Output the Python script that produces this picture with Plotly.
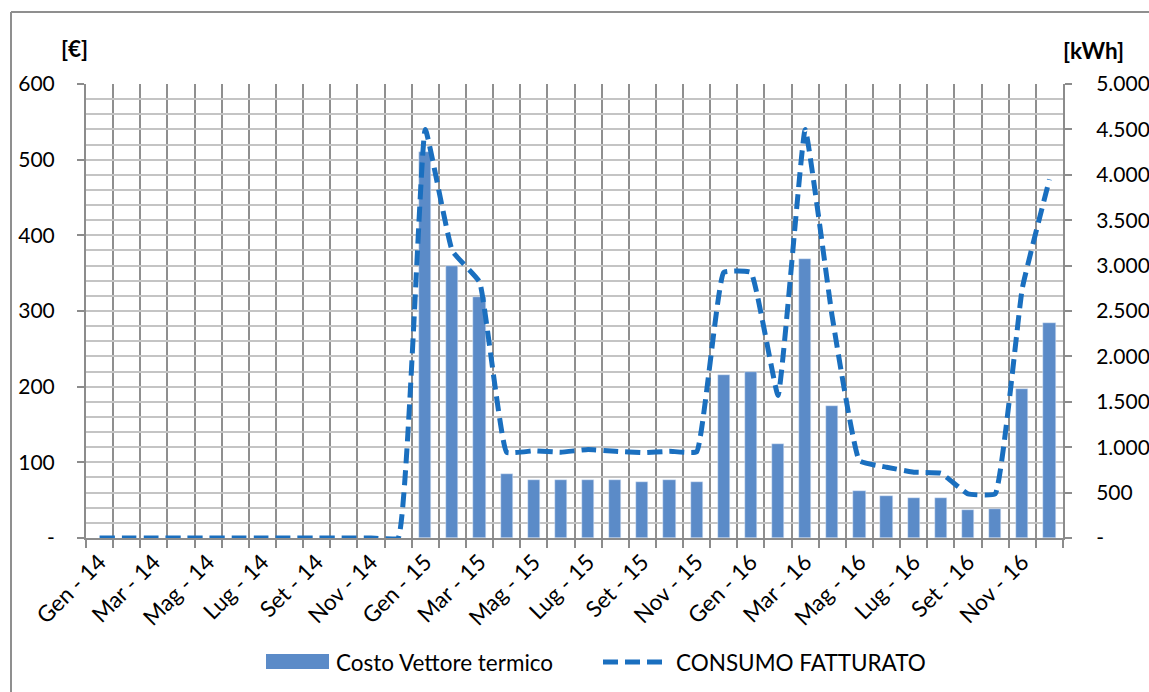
import plotly.graph_objects as go

# Months Jan 2014 - Dec 2016
months = [f"{m} - {y}" for y in ("14", "15", "16")
          for m in ("Gen", "Feb", "Mar", "Apr", "Mag", "Giu",
                    "Lug", "Ago", "Set", "Ott", "Nov", "Dic")]

# Cost of the thermal carrier [€] (no bills during 2014)
costo = [None] * 12 + [
    510, 360, 319, 85, 77, 76, 77, 76, 74, 76, 74, 216,
    219, 124, 369, 174, 62, 56, 53, 53, 37, 38, 197, 284,
]

# Billed consumption [kWh]
consumo = [0] * 12 + [
    4500, 3160, 2820, 945, 960, 945, 975, 955, 940, 955, 950, 2925,
    2925, 1570, 4500, 2430, 850, 780, 725, 713, 485, 485, 2750, 3950,
]

left_vals = [0, 100, 200, 300, 400, 500, 600]
left_text = ["-", "100", "200", "300", "400", "500", "600"]
right_vals = list(range(0, 5001, 500))
right_text = ["-"] + [f"{v:,}".replace(",", ".") for v in right_vals[1:]]

BAR = "#5b8bc8"
LINE = "#1a6fbf"
GRID_H = "#c4c4c4"
GRID_V = "#8f8f8f"
AXIS = "#8c8c8c"
FONT = "Lato"
DASH = "15px,7px"
TICK_SIZE = 21
XTICK_SIZE = 22.5
TEXT_SIZE = 22.5

idx = list(range(len(months)))

fig = go.Figure()
fig.add_trace(go.Bar(x=idx, y=costo, marker_color=BAR, width=0.45,
                     name="Costo Vettore termico", showlegend=False))
fig.add_trace(go.Scatter(x=idx, y=consumo, yaxis="y2", mode="lines",
                         line=dict(color=LINE, width=5, dash=DASH,
                                   shape="spline", smoothing=0.3),
                         name="CONSUMO FATTURATO", showlegend=False))

# plot area in pixels
L, R, T, B = 86, 1063, 84, 538
W, H = 1149, 692
pw, ph = R - L, B - T


def px(X):
    return (X - L) / pw


def py(Y):
    return (B - Y) / ph


fig.update_layout(
    width=W, height=H,
    margin=dict(l=L, r=W - R, t=T, b=H - B),
    paper_bgcolor="white", plot_bgcolor="white",
    font=dict(family=FONT, size=TICK_SIZE, color="#000000"),
    bargap=0,
    xaxis=dict(
        range=[-0.5, len(months) - 0.5],
        tickmode="array",
        tickvals=idx[::2], ticktext=months[::2],
        tickangle=-45, ticks="", showgrid=False,
        showline=True, linecolor=AXIS, linewidth=2,
        tickfont=dict(size=XTICK_SIZE),
        minor=dict(tickmode="linear", tick0=-0.5, dtick=1,
                   showgrid=True, gridcolor=GRID_V, gridwidth=1.5,
                   ticks="outside", ticklen=8, tickcolor=AXIS, tickwidth=1.5),
        zeroline=False, fixedrange=True, automargin=False,
    ),
    yaxis=dict(
        range=[0, 600], tickmode="array",
        tickvals=left_vals, ticktext=left_text,
        showgrid=True, gridcolor=GRID_H, gridwidth=1.5,
        minor=dict(tickmode="linear", tick0=0, dtick=20,
                   showgrid=True, gridcolor=GRID_H, gridwidth=1.5),
        ticks="outside", ticklen=7, tickcolor=AXIS, tickwidth=1.5,
        showline=True, linecolor=AXIS, linewidth=2,
        ticklabelstandoff=18, zeroline=False, automargin=False,
    ),
    yaxis2=dict(
        range=[0, 5000], overlaying="y", side="right",
        tickmode="array", tickvals=right_vals, ticktext=right_text,
        showgrid=False, ticks="outside", ticklen=7, tickcolor=AXIS,
        tickwidth=1.5, showline=True, linecolor=AXIS, linewidth=2,
        ticklabelstandoff=20, zeroline=False, automargin=False,
    ),
)

shapes = [
    # outer chart frame (top and left edges visible)
    dict(type="line", xref="paper", yref="paper",
         x0=px(11), x1=px(1160), y0=py(12), y1=py(12),
         line=dict(color="#8f8f8f", width=2)),
    dict(type="line", xref="paper", yref="paper",
         x0=px(11), x1=px(11), y0=py(12), y1=py(700),
         line=dict(color="#8f8f8f", width=2)),
    # legend swatches
    dict(type="rect", xref="paper", yref="paper",
         x0=px(266), x1=px(329), y0=py(669), y1=py(654),
         fillcolor=BAR, line=dict(width=0)),
    dict(type="line", xref="paper", yref="paper",
         x0=px(603), x1=px(662), y0=py(662), y1=py(662),
         line=dict(color=LINE, width=5, dash=DASH)),
]

annotations = [
    dict(text="<b>[€]</b>", xref="paper", yref="paper",
         x=px(74), y=py(48), xanchor="center", yanchor="middle",
         showarrow=False, font=dict(size=TEXT_SIZE)),
    dict(text="<b>[kWh]</b>", xref="paper", yref="paper",
         x=px(1093), y=py(50), xanchor="center", yanchor="middle",
         showarrow=False, font=dict(size=TEXT_SIZE)),
    dict(text="Costo Vettore termico", xref="paper", yref="paper",
         x=px(334), y=py(662), xanchor="left", yanchor="middle",
         showarrow=False, font=dict(size=TEXT_SIZE)),
    dict(text="CONSUMO FATTURATO", xref="paper", yref="paper",
         x=px(674), y=py(662), xanchor="left", yanchor="middle",
         showarrow=False, font=dict(size=TEXT_SIZE)),
]

fig.update_layout(shapes=shapes, annotations=annotations)
fig.write_html("out.html")
